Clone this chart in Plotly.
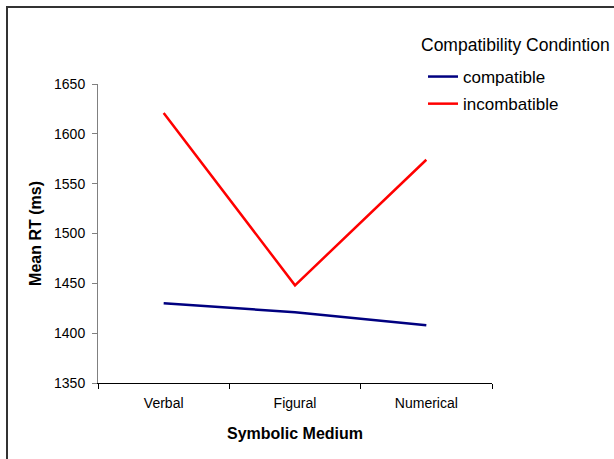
import plotly.graph_objects as go

# Mean reaction times by symbolic medium and compatibility condition
media = ["Verbal", "Figural", "Numerical"]
compatible_rt = [1430, 1421, 1408]
incompatible_rt = [1621, 1448, 1574]
series_names = ["compatible", "incombatible"]
legend_title = "Compatibility Condintion"
y_ticks = [1350, 1400, 1450, 1500, 1550, 1600, 1650]

W, H = 614, 459
L, R, T, B = 98, 492, 84, 383  # plot area edges in pixels


def px_x(p):
    return (p - L) / (R - L)


def px_y(p):
    return (B - p) / (B - T)


FONT = "Arial, Liberation Sans, sans-serif"

fig = go.Figure()
fig.add_trace(go.Scatter(
    x=media, y=compatible_rt, name=series_names[0], mode="lines",
    line=dict(color="#000080", width=2.5), legendgroup="a",
))
fig.add_trace(go.Scatter(
    x=media, y=incompatible_rt, name=series_names[1], mode="lines",
    line=dict(color="#ff0000", width=2.5), legendgroup="b",
))

fig.update_layout(
    width=W, height=H,
    margin=dict(l=L, r=W - R, t=T, b=H - B, pad=0),
    paper_bgcolor="white", plot_bgcolor="white",
    font=dict(family=FONT, color="black", size=14),
    showlegend=True,
    legend=dict(
        x=px_x(423), y=px_y(59), xanchor="left", yanchor="top",
        font=dict(size=17), bgcolor="rgba(0,0,0,0)",
        traceorder="grouped", tracegroupgap=2,
    ),
    annotations=[
        dict(text=legend_title, xref="paper", yref="paper",
             x=px_x(419), y=px_y(45), xanchor="left", yanchor="middle",
             showarrow=False, font=dict(size=17.5)),
    ],
    xaxis=dict(
        type="category", range=[-0.5, 2.5], tickson="boundaries",
        showline=True, linecolor="black", linewidth=1,
        ticks="outside", ticklen=5, tickcolor="black", tickwidth=1,
        showgrid=False, zeroline=False,
        tickfont=dict(size=14), ticklabelstandoff=7,
        title=dict(text="<b>Symbolic Medium</b>", font=dict(size=16), standoff=18),
        automargin=False,
    ),
    yaxis=dict(
        range=[1350, 1650], tickvals=y_ticks,
        showline=True, linecolor="#808080", linewidth=1,
        ticks="outside", ticklen=5, tickcolor="#808080", tickwidth=1,
        showgrid=False, zeroline=False,
        tickfont=dict(size=14), ticklabelstandoff=4,
        title=dict(text="<b>Mean RT (ms)</b>", font=dict(size=16), standoff=8),
        automargin=False,
    ),
    shapes=[
        # outer chart frame (left and top edges visible)
        dict(type="rect", xref="paper", yref="paper",
             x0=px_x(7), x1=px_x(W + 20), y0=px_y(H + 20), y1=px_y(7),
             line=dict(color="#333333", width=2), fillcolor="rgba(0,0,0,0)",
             layer="below"),
    ],
)

fig.write_html("out.html")
